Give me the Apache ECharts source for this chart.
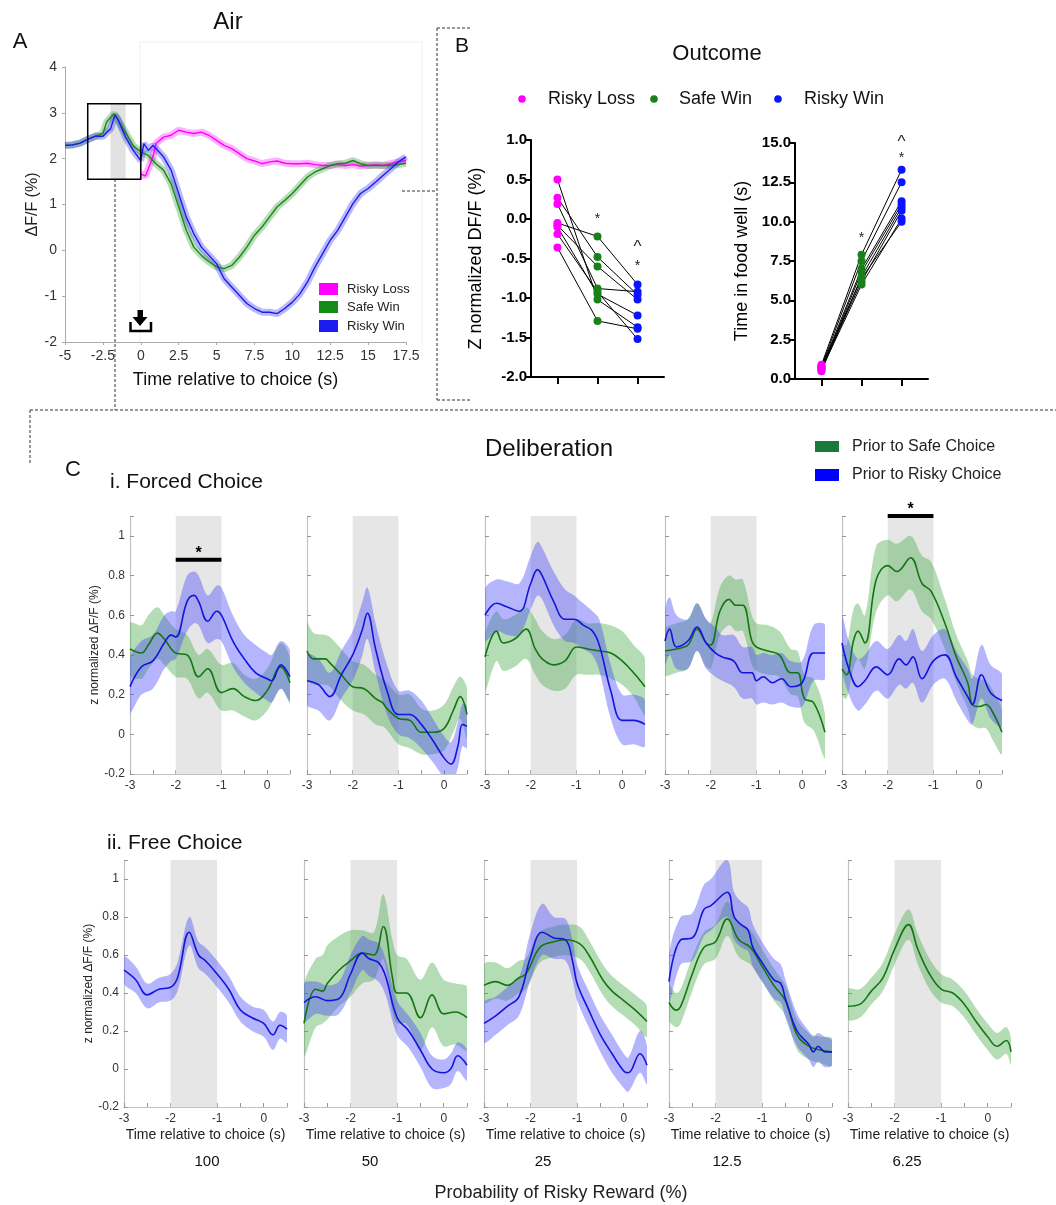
<!DOCTYPE html>
<html>
<head>
<meta charset="utf-8">
<script src="https://cdn.jsdelivr.net/npm/echarts@6/dist/echarts.min.js"></script>
<style>
html, body { margin: 0; padding: 0; background: #fff; }
#main { width: 1056px; height: 1205px; }
</style>
</head>
<body>
<div id="main"></div>
<script>
// ---------- data: panel A (Air), rows are [time, dF/F] ----------
var riskyWinA = [[-5,2.29],[-4.5,2.3],[-4,2.34],[-3.5,2.42],[-3,2.49],[-2.5,2.49],[-2,2.65],[-1.7,2.95],[-1.5,2.85],[-1,2.47],[-0.5,2.18],[0,1.96],[0.2,2.33],[0.5,2.18],[0.8,2.29],[1,2.22],[1.5,2.04],[2,1.75],[2.5,1.24],[3,0.73],[3.5,0.36],[4,0.07],[4.5,-0.11],[5,-0.29],[5.5,-0.62],[6,-0.8],[6.5,-0.98],[7,-1.16],[7.5,-1.27],[8,-1.35],[8.5,-1.35],[9,-1.38],[9.5,-1.27],[10,-1.13],[10.5,-0.95],[11,-0.69],[11.5,-0.36],[12,-0.07],[12.5,0.22],[13,0.44],[13.5,0.73],[14,1.02],[14.5,1.24],[15,1.35],[15.5,1.49],[16,1.64],[16.5,1.78],[17,1.93],[17.5,2.04]];
var safeWinA = [[-5,2.29],[-4.5,2.3],[-4,2.34],[-3.5,2.42],[-3,2.49],[-2.5,2.55],[-2.25,2.8],[-2,2.9],[-1.75,2.98],[-1.5,2.85],[-1,2.57],[-0.5,2.28],[0,2.15],[0.5,2.07],[1,1.89],[1.5,1.75],[2,1.45],[2.5,0.95],[3,0.44],[3.5,0.07],[4,-0.11],[4.5,-0.25],[5,-0.36],[5.5,-0.4],[6,-0.33],[6.5,-0.15],[7,0.07],[7.5,0.33],[8,0.51],[8.5,0.73],[9,0.95],[9.5,1.09],[10,1.24],[10.5,1.42],[11,1.6],[11.5,1.71],[12,1.78],[12.5,1.85],[13,1.89],[13.5,1.9],[14,1.96],[14.5,1.89],[15,1.85],[15.5,1.85],[16,1.85],[16.5,1.85],[17,1.87],[17.5,1.9]];
var riskyLossA = [[0,1.67],[0.3,1.62],[0.5,1.78],[0.8,2.04],[1,2.33],[1.5,2.47],[2,2.51],[2.5,2.62],[3,2.58],[3.5,2.55],[4,2.58],[4.5,2.51],[5,2.4],[5.5,2.29],[6,2.22],[6.5,2.11],[7,2.0],[7.5,1.95],[8,1.89],[8.5,1.93],[9,1.95],[9.5,1.9],[10,1.89],[10.5,1.89],[11,1.9],[11.5,1.87],[12,1.85],[12.5,1.85],[13,1.87],[13.5,1.85],[14,1.87],[14.5,1.84],[15,1.85],[15.5,1.87],[16,1.85],[16.5,1.89],[17,1.93],[17.5,1.96]];
var boxA = [-3.5, 0, 1.55, 3.2];   // x0, x1, y0, y1 of the zoom box
var shadeA = [-2, -1];

// ---------- data: panel B (Outcome), one value per animal ----------
var outcomeCats = ['Risky Loss', 'Safe Win', 'Risky Win'];
var zLoss  = [0.5, 0.27, 0.19, -0.05, -0.08, -0.1, -0.19, -0.36];
var zSafe  = [-1.02, -0.48, -0.88, -0.22, -0.6, -0.95, -0.92, -1.29];
var zRisky = [-1.37, -0.96, -0.92, -0.83, -1.02, -1.22, -1.52, -1.39];
var foodLoss  = [0.9, 0.8, 0.7, 0.6, 0.5, 0.7, 0.6, 0.8];
var foodSafe  = [7.9, 7.5, 7.0, 6.8, 6.5, 6.2, 6.0, 6.4];
var foodRisky = [13.3, 12.5, 11.3, 11.1, 10.9, 10.7, 10.2, 10.0];
var zMarks    = [[1, 0.03, '*'], [2, -0.31, '^'], [2, -0.56, '*']];
var foodMarks = [[1, 9.17, '*'], [2, 15.3, '^'], [2, 14.2, '*']];

// ---------- data: panel C (Deliberation), rows are [time, mean, lower, upper] ----------
var probLabels = ['100', '50', '25', '12.5', '6.25'];
var shadeC = [-2, -1];

var forced100Safe = [[-3,.43,.30,.56],[-2.75,.41,.28,.55],[-2.6,.45,.33,.60],[-2.4,.51,.38,.64],[-2.25,.48,.35,.60],[-2,.41,.29,.53],[-1.75,.40,.28,.50],[-1.5,.29,.18,.40],[-1.3,.33,.21,.43],[-1,.21,.12,.35],[-0.75,.23,.12,.36],[-0.5,.19,.09,.30],[-0.25,.17,.07,.28],[0,.22,.12,.33],[0.3,.34,.23,.46],[0.5,.26,.16,.38]];
var forced100Risky = [[-3,.24,.11,.38],[-2.75,.34,.20,.47],[-2.5,.37,.23,.50],[-2.25,.46,.33,.60],[-2.1,.50,.37,.62],[-2,.49,.38,.62],[-1.75,.67,.52,.80],[-1.6,.70,.56,.82],[-1.5,.67,.55,.80],[-1.3,.57,.46,.70],[-1.1,.62,.48,.75],[-1,.60,.47,.74],[-0.75,.47,.34,.60],[-0.5,.38,.26,.50],[-0.25,.31,.21,.45],[0,.28,.17,.41],[0.1,.27,.16,.40],[0.3,.35,.23,.47],[0.5,.29,.17,.42]];
var forced50Safe = [[-3,.42,.28,.56],[-2.85,.38,.25,.51],[-2.6,.38,.25,.50],[-2.5,.36,.24,.49],[-2.25,.30,.17,.43],[-2,.24,.12,.37],[-1.75,.23,.10,.35],[-1.5,.18,.05,.30],[-1.35,.16,.04,.28],[-1.25,.13,.02,.26],[-1,.08,-.05,.20],[-0.75,.07,-.07,.20],[-0.5,.01,-.10,.13],[-0.25,.01,-.10,.12],[0,.03,-.08,.15],[0.2,.12,.01,.24],[0.35,.19,.08,.29],[0.5,.10,-.02,.23]];
var forced50Risky = [[-3,.27,.15,.40],[-2.75,.25,.12,.38],[-2.5,.19,.07,.31],[-2.25,.30,.18,.42],[-2,.40,.27,.52],[-1.8,.52,.39,.66],[-1.68,.61,.48,.74],[-1.5,.43,.31,.56],[-1.25,.22,.10,.35],[-1,.10,.00,.22],[-0.75,.10,-.02,.22],[-0.5,.05,-.07,.17],[-0.25,-.03,-.14,.08],[0,-.12,-.22,-.01],[0.15,-.15,-.25,-.04],[0.3,-.06,-.17,.06],[0.4,.05,-.06,.15],[0.5,.04,-.07,.14]];
var forced25Safe = [[-3,.39,.22,.50],[-2.75,.52,.37,.62],[-2.6,.46,.32,.58],[-2.35,.48,.34,.60],[-2.1,.53,.38,.64],[-1.9,.43,.30,.58],[-1.75,.38,.25,.52],[-1.5,.35,.22,.48],[-1.25,.37,.23,.50],[-1,.44,.30,.58],[-0.75,.43,.30,.56],[-0.5,.42,.30,.56],[-0.25,.41,.28,.55],[0,.37,.25,.52],[0.25,.31,.19,.45],[0.5,.24,.10,.38]];
var forced25Risky = [[-3,.60,.47,.73],[-2.75,.66,.52,.78],[-2.5,.64,.50,.77],[-2.25,.62,.50,.76],[-2,.76,.63,.90],[-1.85,.83,.70,.97],[-1.75,.80,.68,.94],[-1.5,.67,.55,.82],[-1.25,.58,.47,.73],[-1.05,.58,.46,.70],[-0.85,.55,.43,.66],[-0.65,.52,.40,.62],[-0.5,.45,.32,.58],[-0.25,.22,.08,.35],[0,.07,-.05,.20],[0.25,.07,-.05,.20],[0.5,.05,-.06,.17]];
var forced12Safe = [[-3,.42,.30,.53],[-2.75,.43,.31,.56],[-2.5,.45,.33,.58],[-2.3,.53,.42,.66],[-2.1,.46,.34,.58],[-2,.45,.33,.56],[-1.8,.62,.50,.74],[-1.6,.68,.55,.80],[-1.45,.65,.52,.78],[-1.3,.65,.52,.78],[-1.1,.47,.35,.60],[-1,.44,.32,.56],[-0.75,.42,.30,.55],[-0.5,.40,.29,.52],[-0.25,.31,.20,.43],[-0.1,.31,.19,.42],[0.05,.18,.06,.30],[0.25,.16,.02,.28],[0.5,.01,-.12,.10]];
var forced12Risky = [[-3,.47,.35,.62],[-2.9,.53,.40,.69],[-2.75,.44,.33,.60],[-2.5,.47,.33,.58],[-2.3,.54,.42,.66],[-2.1,.46,.33,.58],[-1.9,.41,.29,.54],[-1.75,.39,.27,.50],[-1.5,.37,.24,.50],[-1.3,.31,.18,.44],[-1.1,.31,.18,.44],[-1,.27,.15,.40],[-0.85,.29,.16,.41],[-0.65,.26,.15,.40],[-0.45,.28,.16,.41],[-0.25,.24,.14,.37],[0,.26,.14,.37],[0.25,.41,.27,.55],[0.5,.41,.28,.55]];
var forced6Safe = [[-3,.33,.20,.45],[-2.9,.30,.18,.45],[-2.75,.47,.33,.63],[-2.65,.52,.38,.66],[-2.5,.46,.33,.60],[-2.25,.78,.62,.95],[-2,.85,.70,.98],[-1.8,.82,.67,.96],[-1.5,.89,.73,1.0],[-1.25,.76,.62,.90],[-1.05,.72,.58,.87],[-0.75,.56,.43,.68],[-0.5,.39,.26,.50],[-0.25,.26,.13,.37],[-0.15,.15,.05,.30],[0,.14,.03,.28],[0.15,.15,.03,.27],[0.3,.11,-.03,.22],[0.5,.01,-.10,.12]];
var forced6Risky = [[-3,.46,.33,.60],[-2.85,.33,.20,.47],[-2.65,.24,.12,.38],[-2.5,.27,.15,.40],[-2.25,.34,.22,.47],[-2,.30,.18,.43],[-1.75,.38,.25,.50],[-1.6,.35,.23,.47],[-1.45,.39,.26,.53],[-1.25,.28,.16,.42],[-1,.37,.25,.50],[-0.75,.40,.28,.53],[-0.5,.29,.17,.42],[-0.25,.19,.07,.33],[-0.15,.15,.05,.28],[0.05,.30,.18,.45],[0.25,.21,.08,.35],[0.5,.17,.04,.30]];

var free100Risky = [[-3,.52,.45,.59],[-2.75,.47,.40,.54],[-2.5,.39,.32,.45],[-2.25,.42,.35,.48],[-2,.43,.36,.50],[-1.85,.48,.41,.56],[-1.6,.72,.65,.80],[-1.4,.60,.53,.67],[-1.25,.57,.50,.64],[-1,.50,.43,.57],[-0.75,.42,.35,.49],[-0.5,.31,.25,.38],[-0.25,.27,.20,.33],[0,.24,.17,.31],[0.2,.18,.10,.25],[0.35,.23,.16,.30],[0.5,.21,.14,.28]];
var free50Safe = [[-3,.24,.07,.44],[-2.75,.42,.22,.58],[-2.6,.41,.24,.60],[-2.5,.45,.26,.65],[-2.25,.52,.33,.70],[-2,.57,.38,.73],[-1.75,.61,.45,.73],[-1.5,.60,.47,.72],[-1.3,.75,.58,.92],[-1.1,.48,.30,.68],[-1,.40,.24,.60],[-0.8,.40,.24,.58],[-0.5,.27,.10,.47],[-0.25,.39,.22,.56],[0,.29,.12,.47],[0.25,.30,.13,.45],[0.5,.27,.10,.43]];
var free50Risky = [[-3,.35,.25,.45],[-2.75,.38,.29,.46],[-2.5,.36,.28,.44],[-2.25,.37,.29,.46],[-2,.50,.40,.60],[-1.75,.61,.52,.70],[-1.6,.58,.49,.68],[-1.4,.56,.46,.66],[-1.25,.49,.39,.58],[-1,.27,.18,.36],[-0.75,.20,.11,.28],[-0.5,.10,.01,.19],[-0.25,.00,-.10,.07],[0,-.02,-.10,.05],[0.15,.00,-.08,.08],[0.3,.07,-.01,.14],[0.5,.02,-.06,.10]];
var free25Safe = [[-3,.44,.35,.55],[-2.75,.46,.37,.56],[-2.5,.44,.36,.53],[-2.25,.48,.40,.57],[-2.1,.50,.42,.58],[-1.8,.64,.56,.72],[-1.5,.67,.59,.75],[-1.25,.68,.60,.76],[-0.95,.66,.58,.75],[-0.75,.60,.52,.68],[-0.45,.47,.39,.55],[-0.25,.41,.33,.49],[0,.36,.28,.44],[0.25,.31,.23,.39],[0.5,.25,.17,.33]];
var free25Risky = [[-3,.24,.14,.35],[-2.75,.28,.18,.38],[-2.5,.33,.23,.43],[-2.25,.38,.28,.48],[-2,.59,.47,.72],[-1.75,.72,.60,.87],[-1.5,.69,.58,.80],[-1.25,.68,.57,.79],[-1.1,.57,.47,.68],[-1,.45,.36,.55],[-0.75,.31,.22,.41],[-0.5,.18,.09,.28],[-0.25,.08,-.02,.18],[0,-.01,-.10,.08],[0.1,-.02,-.12,.06],[0.35,.08,-.02,.20],[0.5,.02,-.08,.12]];
var free12Safe = [[-3,.35,.26,.44],[-2.85,.31,.22,.40],[-2.75,.33,.24,.42],[-2.5,.50,.41,.59],[-2.25,.64,.55,.72],[-2,.67,.58,.76],[-1.75,.79,.70,.88],[-1.5,.68,.59,.77],[-1.25,.64,.55,.73],[-1,.54,.46,.63],[-0.75,.44,.36,.53],[-0.5,.36,.28,.44],[-0.25,.18,.10,.26],[0,.12,.05,.19],[0.25,.10,.03,.17],[0.5,.09,.02,.16]];
var free12Risky = [[-3,.46,.35,.60],[-2.75,.68,.55,.80],[-2.5,.69,.57,.82],[-2.25,.84,.70,.97],[-2.1,.86,.73,1.0],[-1.75,.93,.80,1.1],[-1.6,.80,.68,.93],[-1.45,.76,.64,.88],[-1.3,.73,.62,.85],[-1.2,.64,.54,.76],[-1,.56,.46,.67],[-0.75,.47,.37,.58],[-0.6,.45,.35,.55],[-0.5,.37,.27,.47],[-0.25,.20,.12,.29],[0,.13,.05,.20],[0.1,.09,.01,.17],[0.2,.12,.04,.19],[0.35,.09,.01,.17],[0.5,.09,.02,.15]];
var free6Safe = [[-3,.33,.26,.42],[-2.75,.34,.27,.42],[-2.5,.41,.34,.48],[-2.25,.48,.41,.56],[-2,.63,.55,.71],[-1.7,.76,.68,.84],[-1.5,.63,.55,.71],[-1.25,.50,.42,.58],[-1,.42,.35,.50],[-0.75,.40,.33,.47],[-0.5,.34,.27,.41],[-0.25,.25,.18,.32],[0,.17,.10,.24],[0.2,.12,.05,.19],[0.4,.15,.08,.22],[0.5,.09,.02,.16]];

// significance bars: [panel, from, to, level]
var forcedSig = [[0, -2, -1, 0.88], [4, -2, -1, 1.1]];

// ---------- styles ----------
var FONT = 'Arial, "Liberation Sans", Helvetica, sans-serif';
var MAGENTA = '#ff00ff', GREEN_A = '#168a16', BLUE_A = '#1c1cf0';
var GREEN_B = '#1a801a', BLUE_B = '#0a14ff';
var SAFE_LINE = '#137513', RISKY_LINE = '#1414dc';
var SAFE_BAND = 'rgba(70,170,70,0.40)', RISKY_BAND = 'rgba(70,70,250,0.40)';

var chart = echarts.init(document.getElementById('main'));

var grids = [], xAxes = [], yAxes = [], series = [];

// ---------- panel A ----------
grids.push({ left: 65, top: 67, width: 341, height: 275 });
xAxes.push({
    gridIndex: 0, type: 'value', min: -5, max: 17.5, interval: 2.5,
    axisLine: { onZero: false, lineStyle: { color: '#aaa' } },
    axisTick: { length: 3, lineStyle: { color: '#aaa' } },
    axisLabel: { color: '#333', fontSize: 14, fontFamily: FONT, margin: 7 },
    splitLine: { show: false },
    name: 'Time relative to choice (s)', nameLocation: 'middle', nameGap: 29,
    nameTextStyle: { fontSize: 18, color: '#111', fontFamily: FONT }
});
yAxes.push({
    gridIndex: 0, type: 'value', min: -2, max: 4, interval: 1,
    axisLine: { show: true, onZero: false, lineStyle: { color: '#aaa' } },
    axisTick: { show: true, length: 3, lineStyle: { color: '#aaa' } },
    axisLabel: { color: '#333', fontSize: 14, fontFamily: FONT, margin: 8 },
    splitLine: { show: false },
    name: 'ΔF/F (%)', nameLocation: 'middle', nameGap: 22,
    nameTextStyle: { fontSize: 16, color: '#222', fontFamily: FONT }
});

series.push({
    type: 'custom', xAxisIndex: 0, yAxisIndex: 0, silent: true, z: 1,
    data: [shadeA],
    renderItem: function (params, api) {
        var p0 = api.coord([api.value(0), boxA[3]]);
        var p1 = api.coord([api.value(1), boxA[2]]);
        return { type: 'rect', shape: { x: p0[0], y: p0[1], width: p1[0] - p0[0], height: p1[1] - p0[1] },
                 style: { fill: '#e2e2e2' } };
    }
});
[[riskyLossA, MAGENTA], [safeWinA, GREEN_A], [riskyWinA, BLUE_A]].forEach(function (s) {
    // soft error band as a wide translucent stroke under the mean
    series.push({
        type: 'line', xAxisIndex: 0, yAxisIndex: 0, data: s[0], showSymbol: false, silent: true, z: 2,
        lineStyle: { color: s[1], width: 7, opacity: 0.3 }
    });
    series.push({
        type: 'line', xAxisIndex: 0, yAxisIndex: 0, data: s[0], showSymbol: false, silent: true, z: 3,
        lineStyle: { color: s[1], width: 1.4 }
    });
});
series.push({
    type: 'custom', xAxisIndex: 0, yAxisIndex: 0, silent: true, z: 5,
    data: [[boxA[0], boxA[1]]],
    renderItem: function (params, api) {
        var p0 = api.coord([api.value(0), boxA[3]]);
        var p1 = api.coord([api.value(1), boxA[2]]);
        return { type: 'rect', shape: { x: p0[0], y: p0[1], width: p1[0] - p0[0], height: p1[1] - p0[1] },
                 style: { fill: null, stroke: '#000', lineWidth: 1.5 } };
    }
});

// ---------- panel B ----------
function outcomeAxes(gi, left, top, height, yMin, yMax, yInt, yName, nameGap) {
    grids.push({ left: left, top: top, width: 133, height: height });
    xAxes.push({
        gridIndex: gi, type: 'value', min: -0.66, max: 2.66,
        axisLine: { onZero: false, lineStyle: { color: '#000', width: 2 } },
        axisTick: { show: true, customValues: [0, 1, 2], length: 7, lineStyle: { color: '#000', width: 2 } },
        axisLabel: { show: false }, splitLine: { show: false }
    });
    yAxes.push({
        gridIndex: gi, type: 'value', min: yMin, max: yMax, interval: yInt,
        axisLine: { show: true, onZero: false, lineStyle: { color: '#000', width: 2 } },
        axisTick: { show: true, length: 6, lineStyle: { color: '#000', width: 2 } },
        axisLabel: { color: '#000', fontSize: 15, fontWeight: 'bold', fontFamily: FONT, margin: 4,
                     formatter: function (v) { return v.toFixed(1); } },
        splitLine: { show: false },
        name: yName, nameLocation: 'middle', nameGap: nameGap,
        nameTextStyle: { fontSize: 18, color: '#000', fontFamily: FONT }
    });
}
outcomeAxes(1, 531, 140, 237, -2, 1, 0.5, 'Z normalized DF/F (%)', 46);
outcomeAxes(2, 795, 143, 236, 0, 15, 2.5, 'Time in food well (s)', 44);

function outcomeSeries(gi, loss, safe, risky) {
    for (var i = 0; i < loss.length; i++) {
        series.push({
            type: 'line', xAxisIndex: gi, yAxisIndex: gi, symbol: 'none', silent: true, z: 2,
            data: [[0, loss[i]], [1, safe[i]], [2, risky[i]]],
            lineStyle: { color: '#000', width: 1 }
        });
    }
    [[loss, MAGENTA, 0], [safe, GREEN_B, 1], [risky, BLUE_B, 2]].forEach(function (s) {
        series.push({
            type: 'scatter', xAxisIndex: gi, yAxisIndex: gi, symbolSize: 8, silent: true, z: 3,
            itemStyle: { color: s[1], opacity: 1 },
            data: s[0].map(function (v) { return [s[2], v]; })
        });
    });
}
outcomeSeries(1, zLoss, zSafe, zRisky);
outcomeSeries(2, foodLoss, foodSafe, foodRisky);

// ---------- panel C ----------
var forcedPanels = [
    { safe: forced100Safe, risky: forced100Risky },
    { safe: forced50Safe, risky: forced50Risky },
    { safe: forced25Safe, risky: forced25Risky },
    { safe: forced12Safe, risky: forced12Risky },
    { safe: forced6Safe, risky: forced6Risky }
];
var freePanels = [
    { risky: free100Risky },
    { safe: free50Safe, risky: free50Risky },
    { safe: free25Safe, risky: free25Risky },
    { safe: free12Safe, risky: free12Risky },
    { safe: free6Safe }
];
var forcedLefts = [130, 307, 485, 665, 842];
var freeLefts = [124, 304, 484, 669, 848];

function bandSeries(gi, rows, color) {
    return {
        type: 'custom', xAxisIndex: gi, yAxisIndex: gi, silent: true, clip: true, z: 2,
        data: rows.map(function (r) { return [r[0], r[2], r[3]]; }),
        renderItem: function (params, api) {
            if (params.dataIndex !== 0) return null;
            var pts = [];
            for (var i = 0; i < rows.length; i++) pts.push(api.coord([rows[i][0], rows[i][3]]));
            for (var j = rows.length - 1; j >= 0; j--) pts.push(api.coord([rows[j][0], rows[j][2]]));
            return { type: 'polygon', shape: { points: pts, smooth: 0.35 }, style: { fill: color } };
        }
    };
}

function deliberationPanel(gi, left, top, width, height, panel, col, isFree) {
    grids.push({ left: left, top: top, width: width, height: height });
    xAxes.push({
        gridIndex: gi, type: 'value', min: -3, max: 0.5, interval: 0.5,
        axisLine: { onZero: false, lineStyle: { color: '#c2c2c2', width: 1.2 } },
        axisTick: { inside: true, length: 4, lineStyle: { color: '#999' } },
        axisLabel: { color: '#333', fontSize: 12, fontFamily: FONT, margin: 6,
                     formatter: function (v) { return Math.abs(v - Math.round(v)) < 1e-6 ? String(Math.round(v)) : ''; } },
        splitLine: { show: false },
        name: isFree ? 'Time relative to choice (s)' : '', nameLocation: 'middle', nameGap: 21,
        nameTextStyle: { fontSize: 14, color: '#222', fontFamily: FONT }
    });
    yAxes.push({
        gridIndex: gi, type: 'value', min: -0.2, max: 1.1, interval: 0.2,
        axisLine: { show: true, onZero: false, lineStyle: { color: '#c2c2c2', width: 1.2 } },
        axisTick: { show: true, inside: true, length: 4, lineStyle: { color: '#999' } },
        axisLabel: { show: col === 0, color: '#333', fontSize: 12, fontFamily: FONT, margin: 5,
                     formatter: function (v) { return v > 1.05 ? '' : String(Math.round(v * 10) / 10); } },
        splitLine: { show: false },
        name: col === 0 ? 'z normalized ΔF/F (%)' : '', nameLocation: 'middle', nameGap: 27,
        nameTextStyle: { fontSize: 12, color: '#222', fontFamily: FONT }
    });
    series.push({
        type: 'custom', xAxisIndex: gi, yAxisIndex: gi, silent: true, z: 1,
        data: [shadeC],
        renderItem: function (params, api) {
            var p0 = api.coord([api.value(0), 1.1]);
            var p1 = api.coord([api.value(1), -0.2]);
            return { type: 'rect', shape: { x: p0[0], y: p0[1], width: p1[0] - p0[0], height: p1[1] - p0[1] },
                     style: { fill: '#e6e6e6' } };
        }
    });
    if (panel.safe) series.push(bandSeries(gi, panel.safe, SAFE_BAND));
    if (panel.risky) series.push(bandSeries(gi, panel.risky, RISKY_BAND));
    [[panel.safe, SAFE_LINE], [panel.risky, RISKY_LINE]].forEach(function (s) {
        if (!s[0]) return;
        series.push({
            type: 'line', xAxisIndex: gi, yAxisIndex: gi, showSymbol: false, silent: true, smooth: 0.4, z: 3,
            data: s[0].map(function (r) { return [r[0], r[1]]; }),
            lineStyle: { color: s[1], width: 1.6 }
        });
    });
}
forcedPanels.forEach(function (p, k) { deliberationPanel(3 + k, forcedLefts[k], 516, 160, 258, p, k, false); });
freePanels.forEach(function (p, k) { deliberationPanel(8 + k, freeLefts[k], 860, 163, 247, p, k, true); });

chart.setOption({
    backgroundColor: '#fff',
    animation: false,
    grid: grids, xAxis: xAxes, yAxis: yAxes, series: series
});

// ---------- text, legends, annotations ----------
function txt(s, x, y, size, o) {
    o = o || {};
    var al = o.align || 'center';
    return {
        type: 'text', x: x, y: y, rotation: o.rot || 0, silent: true, z: 10,
        style: { text: s, fill: o.color || '#111', font: (o.weight || 'normal') + ' ' + size + 'px ' + FONT,
                 align: al, verticalAlign: 'middle', textAlign: al, textVerticalAlign: 'middle' }
    };
}
function dash(x1, y1, x2, y2) {
    return { type: 'line', silent: true, shape: { x1: x1, y1: y1, x2: x2, y2: y2 },
             style: { stroke: '#333', lineWidth: 1, lineDash: [3, 2] } };
}
function box(x, y, w, h, color) {
    return { type: 'rect', silent: true, z: 10, shape: { x: x, y: y, width: w, height: h }, style: { fill: color } };
}

var g = [];
// faint frame around panel A trace area
g.push({ type: 'polyline', silent: true, shape: { points: [[140, 342], [140, 42], [422, 42], [422, 345]] },
         style: { stroke: '#f0f0f0', lineWidth: 1, fill: null } });
// dashed connectors
g.push(dash(115, 179, 115, 410));
g.push(dash(30, 410, 1056, 410));
g.push(dash(30, 410, 30, 465));
g.push(dash(437, 28, 437, 400));
g.push(dash(437, 28, 470, 28));
g.push(dash(437, 400, 470, 400));
g.push(dash(402, 191, 437, 191));

// panel titles
g.push(txt('A', 20, 42, 22));
g.push(txt('Air', 228, 22, 24));
g.push(txt('B', 462, 46, 21));
g.push(txt('Outcome', 717, 54, 22));
g.push(txt('C', 73, 470, 22));
g.push(txt('Deliberation', 549, 449, 24));
g.push(txt('i. Forced Choice', 110, 482, 21, { align: 'left' }));
g.push(txt('ii. Free Choice', 107, 843, 21, { align: 'left' }));

// choice icon
g.push({ type: 'polygon', silent: true,
         shape: { points: [[137.5, 310], [143, 310], [143, 317], [147.5, 317], [140, 326], [132.5, 317], [137.5, 317]] },
         style: { fill: '#000' } });
g.push({ type: 'polyline', silent: true, shape: { points: [[130.5, 322], [130.5, 331], [151, 331], [151, 322]] },
         style: { stroke: '#000', lineWidth: 2.5, fill: null } });

// legend A
[['Risky Loss', MAGENTA, 289], ['Safe Win', GREEN_A, 307], ['Risky Win', BLUE_A, 326]].forEach(function (l) {
    g.push(box(319, l[2] - 6, 19, 12, l[1]));
    g.push(txt(l[0], 347, l[2], 13, { align: 'left', color: '#222' }));
});
// legend B
[[outcomeCats[0], MAGENTA, 522, 548], [outcomeCats[1], GREEN_B, 654, 679], [outcomeCats[2], BLUE_B, 778, 804]].forEach(function (l) {
    g.push({ type: 'circle', silent: true, shape: { cx: l[2], cy: 99, r: 3.8 }, style: { fill: l[1] } });
    g.push(txt(l[0], l[3], 99, 18, { align: 'left', color: '#111' }));
});
// legend C
g.push(box(815, 441, 24, 11, '#1a7a3c'));
g.push(txt('Prior to Safe Choice', 852, 447, 16, { align: 'left', color: '#222' }));
g.push(box(815, 469, 24, 12, '#0000ff'));
g.push(txt('Prior to Risky Choice', 852, 475, 16, { align: 'left', color: '#222' }));

// significance marks in B
[[1, zMarks], [2, foodMarks]].forEach(function (m) {
    m[1].forEach(function (s) {
        var p = chart.convertToPixel({ gridIndex: m[0] }, [s[0], s[1]]);
        g.push(txt(s[2], p[0], p[1] + (s[2] === '*' ? 3 : 4), s[2] === '*' ? 14 : 17, { color: '#222' }));
    });
});
// significance bars in C forced row
forcedSig.forEach(function (s) {
    var a = chart.convertToPixel({ gridIndex: 3 + s[0] }, [s[1], s[3]]);
    var b = chart.convertToPixel({ gridIndex: 3 + s[0] }, [s[2], s[3]]);
    g.push(box(a[0], a[1] - 2, b[0] - a[0], 4, '#000'));
    g.push(txt('*', (a[0] + b[0]) / 2, a[1] - 6, 16, { weight: 'bold', color: '#000' }));
});

// probability labels under the free-choice row
var probX = [207, 370, 543, 727, 907];
probLabels.forEach(function (p, k) { g.push(txt(p, probX[k], 1162, 15, { color: '#111' })); });
g.push(txt('Probability of Risky Reward (%)', 561, 1193, 18, { color: '#222' }));

chart.setOption({ graphic: { elements: g } });
</script>
</body>
</html>
